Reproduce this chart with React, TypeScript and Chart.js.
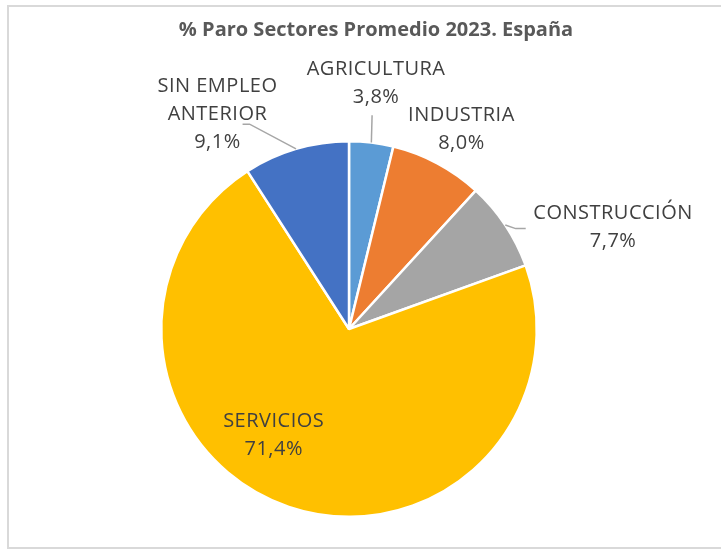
import React, { useEffect, useRef } from "react";
import { Chart, registerables } from "chart.js";

Chart.register(...registerables);

const TITLE = "% Paro Sectores Promedio 2023. España";
const SECTORS = ["AGRICULTURA", "INDUSTRIA", "CONSTRUCCIÓN", "SERVICIOS", "SIN EMPLEO ANTERIOR"];
const LABEL_LINES = [["AGRICULTURA"], ["INDUSTRIA"], ["CONSTRUCCIÓN"], ["SERVICIOS"], ["SIN EMPLEO", "ANTERIOR"]];
const PERCENTS = [3.8, 8.0, 7.7, 71.4, 9.1];
const COLORS = ["#5B9BD5", "#ED7D31", "#A5A5A5", "#FFC000", "#4472C4"];

// label block centres, relative to pie centre, in px (pie radius 187)
const LABEL_POS = [
  [27, -245],
  [112, -199],
  [263, -101],
  [-75, 106],
  [-131, -214],
];
// leader line points after the arc edge (relative to centre), null = no line
const LEADERS: (number[][] | null)[] = [
  [[23, -213]],
  null,
  [[166, -100], [176, -100]],
  null,
  [[-99, -204], [-106, -204]],
];

const fmt = (v: number) => v.toFixed(1).replace(".", ",") + "%";

export default function App() {
  const ref = useRef<HTMLCanvasElement | null>(null);
  useEffect(() => {
    const canvas = ref.current!;
    const labelPlugin = {
      id: "labels",
      afterDatasetsDraw(chart: any) {
        const ctx = chart.ctx;
        const meta = chart.getDatasetMeta(0);
        ctx.save();
        // title
        ctx.fillStyle = "#595959";
        ctx.font = "bold 20px 'Open Sans'";
        ctx.textAlign = "center";
        ctx.textBaseline = "middle";
        ctx.fillText(TITLE, 376, 30);
        meta.data.forEach((arc: any, i: number) => {
          const p = arc.getProps(["x", "y", "startAngle", "endAngle", "outerRadius"], true);
          const s = p.outerRadius / 187;
          const mid = (p.startAngle + p.endAngle) / 2;
          const lead = LEADERS[i];
          if (lead) {
            ctx.strokeStyle = "#A6A6A6";
            ctx.lineWidth = 1.5;
            ctx.beginPath();
            ctx.moveTo(p.x + Math.cos(mid) * p.outerRadius, p.y + Math.sin(mid) * p.outerRadius);
            lead.forEach((pt) => ctx.lineTo(p.x + pt[0] * s, p.y + pt[1] * s));
            ctx.stroke();
          }
          const lines = [...LABEL_LINES[i], fmt(PERCENTS[i])];
          const lh = 28;
          const cx = p.x + LABEL_POS[i][0] * s;
          const cy = p.y + LABEL_POS[i][1] * s;
          ctx.fillStyle = "#404040";
          ctx.font = "20px 'Open Sans'";
          (ctx as any).letterSpacing = "0.5px";
          lines.forEach((t, k) => {
            ctx.fillText(t, cx, cy + (k - (lines.length - 1) / 2) * lh);
          });
          (ctx as any).letterSpacing = "0px";
        });
        ctx.restore();
      },
    };
    const chart = new Chart(canvas, {
      type: "pie",
      data: {
        labels: SECTORS,
        datasets: [
          {
            data: PERCENTS,
            backgroundColor: COLORS,
            borderColor: "#FFFFFF",
            borderWidth: 2.5,
          },
        ],
      },
      options: {
        responsive: false,
        animation: false,
        layout: { padding: { left: 160, right: 183, top: 140, bottom: 32 } },
        plugins: { legend: { display: false }, title: { display: false }, tooltip: { enabled: false } },
      },
      plugins: [labelPlugin],
    });
    return () => chart.destroy();
  }, []);
  return (
    <div style={{ position: "absolute", left: 0, top: 0, width: 721, height: 550, overflow: "hidden", background: "#fff" }}>
      <div
        style={{
          position: "absolute",
          left: 7,
          top: 5,
          width: 714,
          height: 544,
          boxSizing: "border-box",
          border: "2px solid #D9D9D9",
          borderRight: "none",
        }}
      />
      <canvas ref={ref} width={721} height={550} style={{ position: "absolute", left: 0, top: 0, width: 721, height: 550 }} />
    </div>
  );
}
